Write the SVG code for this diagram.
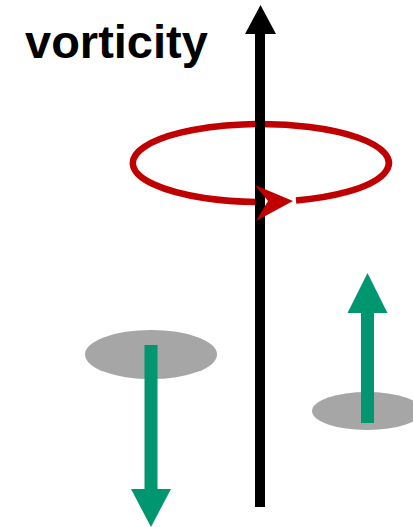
<svg xmlns="http://www.w3.org/2000/svg" width="413" height="527" viewBox="0 0 413 527">
<style>
.disc{fill:#a6a6a6}
.green{fill:#00966f}
.label{font-family:"Liberation Sans",Arial,sans-serif;font-weight:bold;font-size:47px;fill:#000}
</style>
<rect width="413" height="527" fill="#fff"/>
<g id="disc-left"><ellipse class="disc" cx="151" cy="354.5" rx="66" ry="24.5"/></g>
<g id="disc-right"><ellipse class="disc" cx="367" cy="411" rx="55" ry="19"/></g>
<g id="connectors">
<path id="rotation-loop" d="M296,200.5 A128,39 0 1 0 262,202" fill="none" stroke="#c00000" stroke-width="6.5"/>
<g id="axis">
<rect x="255" y="32" width="10" height="475" fill="#000"/>
<polygon points="260.5,5 245,34 276,34" fill="#000"/>
</g>
<polygon id="rotation-head" points="255,185 293,201 256,221 268,201" fill="#c00000"/>
<g id="arrow-down">
<rect class="green" x="144.5" y="345" width="13" height="146"/>
<polygon class="green" points="131,489 171,489 151,527"/>
</g>
<g id="arrow-up">
<rect class="green" x="361" y="311" width="13" height="112"/>
<polygon class="green" points="347.5,313 387.5,313 367.5,273"/>
</g>
</g>
<g id="title"><text class="label" x="25" y="58">vorticity</text></g>
</svg>
